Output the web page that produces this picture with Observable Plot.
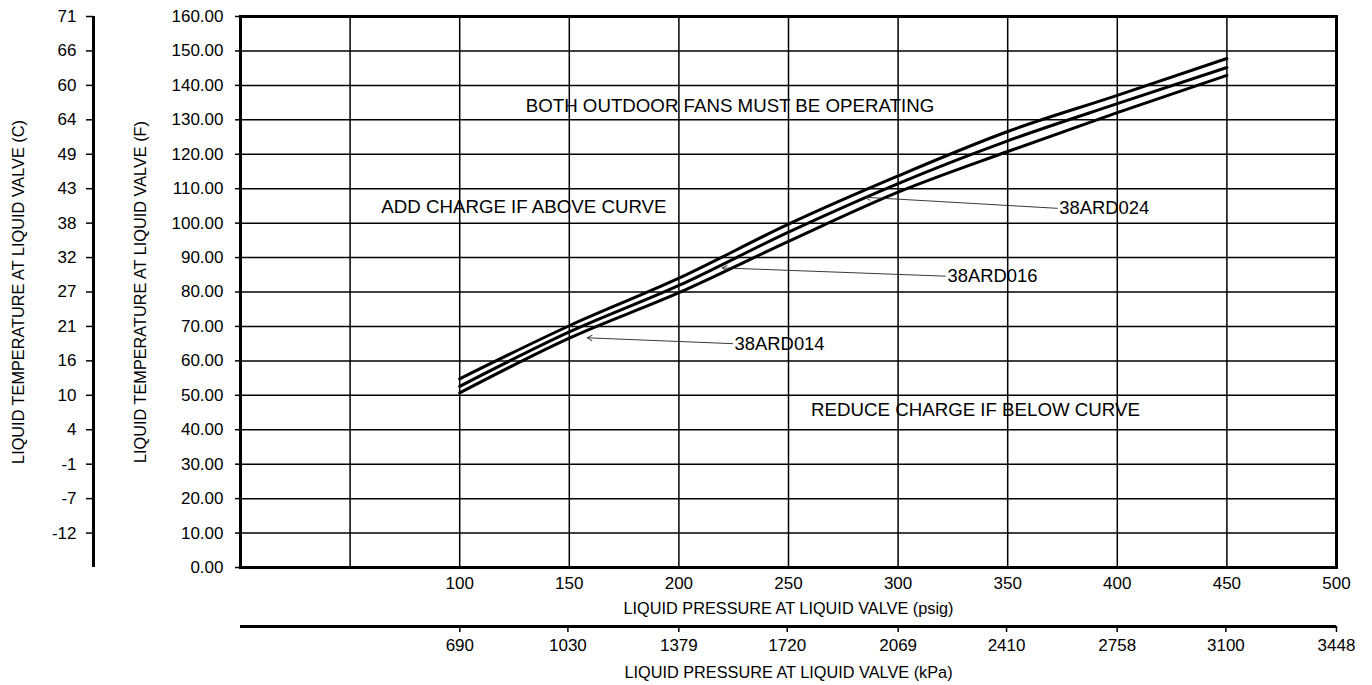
<!DOCTYPE html>
<html><head><meta charset="utf-8">
<script src="https://cdn.jsdelivr.net/npm/d3@7"></script>
<script src="https://cdn.jsdelivr.net/npm/@observablehq/plot@0.6"></script>
<style>
body{margin:0;background:#fff;}
#wrap{position:relative;width:1372px;height:685px;overflow:hidden;background:#fff;}
#wrap svg{position:absolute;}
</style></head><body><div id="wrap"></div>
<script>
// ---- data ----
const psig = [100, 150, 200, 250, 300, 350, 400, 450];
const ard014 = [50.7, 66.6, 79.8, 94.7, 109.0, 120.8, 132.1, 142.9];
const ard016 = [52.6, 68.4, 81.9, 97.4, 111.5, 123.9, 134.7, 145.2];
const ard024 = [54.8, 70.2, 84.0, 99.7, 113.7, 126.6, 137.1, 147.8];
const seriesNames = ["38ARD014", "38ARD016", "38ARD024"];

const psigTicks = [100, 150, 200, 250, 300, 350, 400, 450, 500];
const psigGrid = [50, 100, 150, 200, 250, 300, 350, 400, 450];
const fTicks = [0, 10, 20, 30, 40, 50, 60, 70, 80, 90, 100, 110, 120, 130, 140, 150, 160];
const fGrid = [10, 20, 30, 40, 50, 60, 70, 80, 90, 100, 110, 120, 130, 140, 150];
const cTickF = [10, 20, 30, 40, 50, 60, 70, 80, 90, 100, 110, 120, 130, 140, 150, 160];
const cLabels = ["-12", "-7", "-1", "4", "10", "16", "21", "27", "32", "38", "43", "49", "64", "60", "66", "71"];
const kpaTicks = [690, 1030, 1379, 1720, 2069, 2410, 2758, 3100, 3448];

// leader labels: label anchor (psig, F) and arrow tip (psig, F)
const labelPsig = [224.5, 321.6, 372.6];
const labelF = [65.0, 84.6, 104.3];
const tipPsig = [158.2, 219.8, 285.1];
const tipF = [66.7, 87.0, 107.5];

const noteTexts = ["BOTH OUTDOOR FANS MUST BE OPERATING", "ADD CHARGE IF ABOVE CURVE", "REDUCE CHARGE IF BELOW CURVE"];
const notePsig = [223.3, 129.3, 335.3];
const noteF = [133.9, 104.7, 45.6];

const titleC = "LIQUID TEMPERATURE AT LIQUID VALVE (C)";
const titleF = "LIQUID TEMPERATURE AT LIQUID VALVE (F)";
const titlePsig = "LIQUID PRESSURE AT LIQUID VALVE (psig)";
const titleKpa = "LIQUID PRESSURE AT LIQUID VALVE (kPa)";

// ---- tables ----
const seriesVals = [ard014, ard016, ard024];
const rows = [];
seriesNames.forEach((s, i) => psig.forEach((p, j) => rows.push({series: s, psig: p, F: seriesVals[i][j]})));
const leaders = seriesNames.map((s, i) => ({name: s, lx: labelPsig[i], ly: labelF[i], tx: tipPsig[i], ty: tipF[i]}));
const notes = noteTexts.map((t, i) => ({text: t, x: notePsig[i], y: noteF[i]}));
const cMap = new Map(cTickF.map((f, i) => [f, cLabels[i]]));

const FONT = '"Liberation Sans", Arial, Helvetica, sans-serif';
const baseStyle = {fontFamily: FONT, fontSize: "17px", color: "black", background: "transparent", overflow: "visible"};
const wrap = document.getElementById("wrap");

// ---- Celsius axis ----
const cPlot = Plot.plot({
  width: 100, height: 617,
  marginLeft: 93, marginRight: 7, marginTop: 16, marginBottom: 50,
  style: baseStyle,
  x: {domain: [0, 1], axis: null},
  y: {domain: [0, 160]},
  marks: [
    Plot.axisY({ticks: cTickF, tickFormat: d => cMap.get(d), tickSize: 7, tickPadding: 10, label: null, strokeWidth: 1.5}),
    Plot.ruleX([0], {stroke: "black", strokeWidth: 3}),
    Plot.text([titleC], {text: d => d, frameAnchor: "left", textAnchor: "middle", lineAnchor: "middle", rotate: -90, dx: -75, fontSize: 16.3})
  ]
});
cPlot.style.left = "0px"; cPlot.style.top = "0px";
wrap.appendChild(cPlot);

// ---- main chart ----
const main = Plot.plot({
  width: 1272, height: 617,
  marginLeft: 140, marginRight: 36, marginTop: 16, marginBottom: 50,
  style: baseStyle,
  x: {domain: [0, 500]},
  y: {domain: [0, 160]},
  marks: [
    Plot.gridX({ticks: psigGrid, stroke: "black", strokeOpacity: 1, strokeWidth: 1.5}),
    Plot.gridY({ticks: fGrid, stroke: "black", strokeOpacity: 1, strokeWidth: 1.5}),
    Plot.axisY({ticks: fTicks, tickFormat: d3.format(".2f"), tickSize: 5, tickPadding: 12, label: null, strokeWidth: 1.5}),
    Plot.axisX({ticks: psigTicks, tickFormat: d => String(d), tickSize: 0, tickPadding: 9, label: null}),
    Plot.line(rows, {x: "psig", y: "F", z: "series", stroke: "black", strokeWidth: 3, curve: "monotone-x"}),
    Plot.arrow(leaders, {x1: "lx", y1: "ly", x2: "tx", y2: "ty", stroke: "#222", strokeWidth: 0.9, headLength: 9, inset: 0}),
    Plot.text(leaders, {x: "lx", y: "ly", text: "name", textAnchor: "start", dx: 2, fontSize: 18.4}),
    Plot.text(notes, {x: "x", y: "y", text: "text", fontSize: 18.7}),
    Plot.text([titleF], {text: d => d, frameAnchor: "left", textAnchor: "middle", lineAnchor: "middle", rotate: -90, dx: -100, fontSize: 16.3}),
    Plot.text([titlePsig], {text: d => d, frameAnchor: "bottom", lineAnchor: "middle", dy: 41, fontSize: 16.3}),
    Plot.frame({stroke: "black", strokeWidth: 3})
  ]
});
main.style.left = "100px"; main.style.top = "0px";
wrap.appendChild(main);

// ---- kPa axis ----
const kPlot = Plot.plot({
  width: 1372, height: 68,
  marginLeft: 240, marginRight: 36, marginTop: 8, marginBottom: 59,
  style: baseStyle,
  x: {domain: [0, 3448]},
  y: {domain: [0, 1], axis: null},
  marks: [
    Plot.ruleY([0], {stroke: "black", strokeWidth: 3}),
    Plot.axisX({ticks: kpaTicks, tickFormat: d => String(d), tickSize: 6, tickPadding: 6, label: null, strokeWidth: 1.5}),
    Plot.text([titleKpa], {text: d => d, frameAnchor: "bottom", lineAnchor: "middle", dy: 46, fontSize: 16.3})
  ]
});
kPlot.style.left = "0px"; kPlot.style.top = "617px";
wrap.appendChild(kPlot);
</script>
</body></html>
